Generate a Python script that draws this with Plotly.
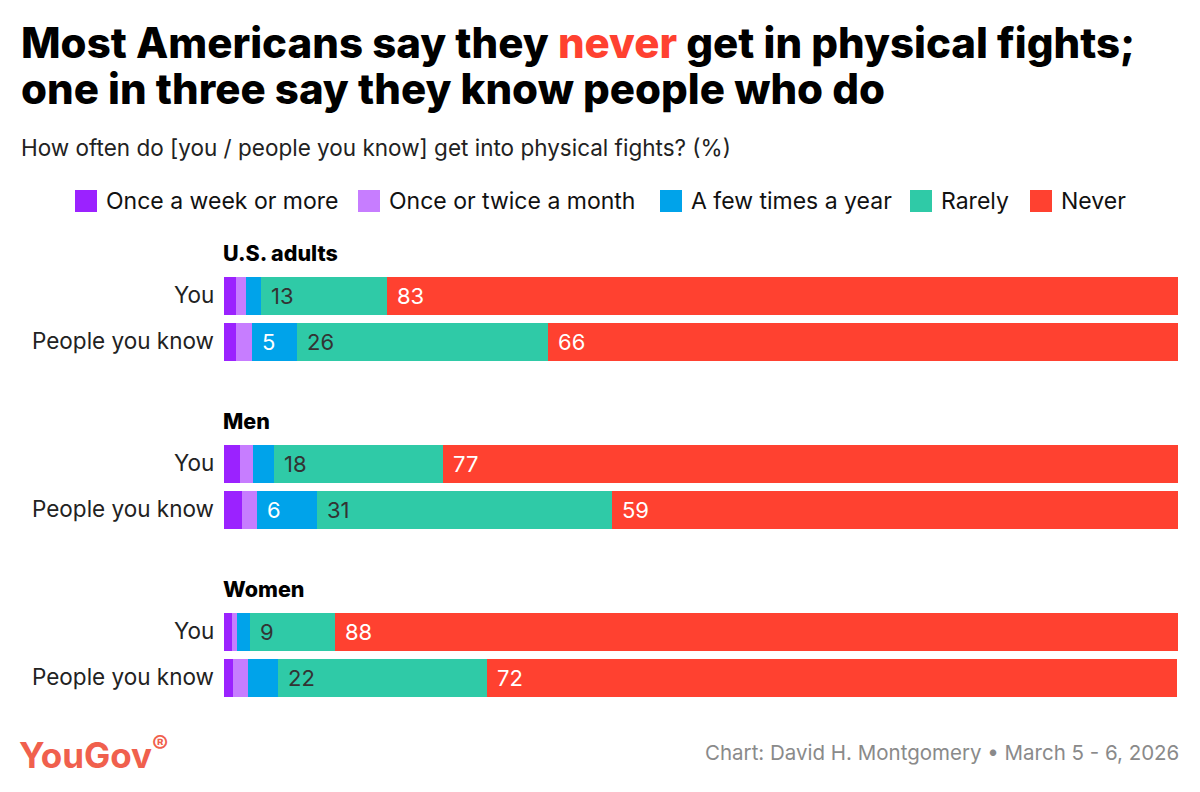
import plotly.graph_objects as go

# ---------------- data ----------------
groups = ["U.S. adults", "Men", "Women"]
rows = ["You", "People you know"]
categories = ["Once a week or more", "Once or twice a month", "A few times a year", "Rarely", "Never"]

once_week = [1.3, 1.3, 1.7, 1.9, 0.8, 0.9]
once_month = [1.0, 1.6, 1.3, 1.6, 0.6, 1.6]
few_year = [1.6, 4.7, 2.2, 6.2, 1.3, 3.2]
rarely = [13.2, 26.4, 17.8, 31.0, 8.9, 21.9]
never = [82.9, 66.0, 77.0, 59.3, 88.4, 72.3]

series = [once_week, once_month, few_year, rarely, never]
colors = ["#9B22FF", "#C77DFF", "#00A3EA", "#2FCAA7", "#FF4130"]
label_colors = ["#ffffff", "#222222", "#ffffff", "#333333", "#ffffff"]

# ---------------- layout constants ----------------
W, H = 1200, 792
PLOT_L, PLOT_R = 224, 1178
PLOT_T, PLOT_B = 240, 705
PITCH = 46.0           # px between rows in a group
FIRST_C = 296.0        # px centre of first bar
GROUP_STEP = 168.0 / PITCH
BAR_W = 38.0 / PITCH

ypos = []
for g in range(len(groups)):
    for r in range(len(rows)):
        ypos.append(g * GROUP_STEP + r)

y_top = (PLOT_T - FIRST_C) / PITCH
y_bot = (PLOT_B - FIRST_C) / PITCH

FONT = "Inter"


def px(xp):
    return (xp - PLOT_L) / (PLOT_R - PLOT_L)


def py(yp):
    return (PLOT_B - yp) / (PLOT_B - PLOT_T)


fig = go.Figure()
for cat, vals, col in zip(categories, series, colors):
    fig.add_trace(go.Bar(
        x=vals, y=ypos, orientation="h", name=cat,
        marker=dict(color=col, line=dict(width=0)),
        width=BAR_W, showlegend=False, hoverinfo="x+name",
    ))

annotations = []
# value labels inside bars
for i, y in enumerate(ypos):
    start = 0.0
    for s, vals in enumerate(series):
        v = vals[i]
        if round(v) >= 5:
            annotations.append(dict(
                x=start, y=y, xref="x", yref="y", text=str(int(round(v))),
                showarrow=False, xanchor="left", yanchor="middle", xshift=8,
                font=dict(family=FONT, size=22, color=label_colors[s]),
            ))
        start += v

# row labels
for i, y in enumerate(ypos):
    annotations.append(dict(
        x=0, y=y, xref="paper", yref="y", text=rows[i % 2], showarrow=False,
        xanchor="right", yanchor="middle", xshift=-8, yshift=2,
        font=dict(family=FONT, size=22.5, color="#222222"),
    ))

# group headings
for g, name in enumerate(groups):
    annotations.append(dict(
        x=0, y=g * GROUP_STEP + (253 - FIRST_C) / PITCH, xref="paper", yref="y",
        text=name, showarrow=False, xanchor="left", yanchor="middle", xshift=-3,
        font=dict(family=FONT, size=21.5, color="#000000", weight=800),
    ))

# title (two lines)
annotations.append(dict(
    x=px(19), y=py(42), xref="paper", yref="paper",
    text="Most Americans say they <span style='color:#FF4130'>never</span> get in physical fights;",
    showarrow=False, xanchor="left", yanchor="middle",
    font=dict(family=FONT, size=42, color="#000000", weight=800),
))
annotations.append(dict(
    x=px(19), y=py(88), xref="paper", yref="paper",
    text="one in three say they know people who do",
    showarrow=False, xanchor="left", yanchor="middle",
    font=dict(family=FONT, size=42, color="#000000", weight=800),
))
# subtitle
annotations.append(dict(
    x=px(19), y=py(147), xref="paper", yref="paper",
    text="How often do [you / people you know] get into physical fights? (%)",
    showarrow=False, xanchor="left", yanchor="middle",
    font=dict(family=FONT, size=22.5, color="#222222"),
))

# custom legend
legend_sq_x = [75, 358, 660, 910, 1030]
shapes = []
for cat, col, sx in zip(categories, colors, legend_sq_x):
    shapes.append(dict(
        type="rect", xref="paper", yref="paper",
        x0=px(sx), x1=px(sx + 22), y0=py(212), y1=py(190),
        fillcolor=col, line=dict(width=0),
    ))
    annotations.append(dict(
        x=px(sx + 29), y=py(201),
        xref="paper", yref="paper", text=cat, showarrow=False,
        xanchor="left", yanchor="middle",
        font=dict(family=FONT, size=23, color="#111111"),
    ))

# footer
annotations.append(dict(
    x=px(17), y=py(752), xref="paper", yref="paper",
    text="YouGov<sup style='font-size:10px'>®</sup>", showarrow=False,
    xanchor="left", yanchor="middle",
    font=dict(family=FONT, size=35, color="#F0604D", weight=700),
))
annotations.append(dict(
    x=px(1181), y=py(752), xref="paper", yref="paper",
    text="Chart: David H. Montgomery \u2022 March 5 - 6, 2026", showarrow=False,
    xanchor="right", yanchor="middle",
    font=dict(family=FONT, size=20.5, color="#8a8a8a"),
))

fig.update_layout(
    width=W, height=H,
    margin=dict(l=PLOT_L, r=W - PLOT_R, t=PLOT_T, b=H - PLOT_B, pad=0),
    barmode="stack", bargap=0,
    paper_bgcolor="white", plot_bgcolor="white",
    xaxis=dict(range=[0, 100], visible=False, fixedrange=True),
    yaxis=dict(range=[y_bot, y_top], visible=False, fixedrange=True),
    annotations=annotations, shapes=shapes,
    font=dict(family=FONT),
    showlegend=False,
)

fig.write_html("out.html", config={"displayModeBar": False})
